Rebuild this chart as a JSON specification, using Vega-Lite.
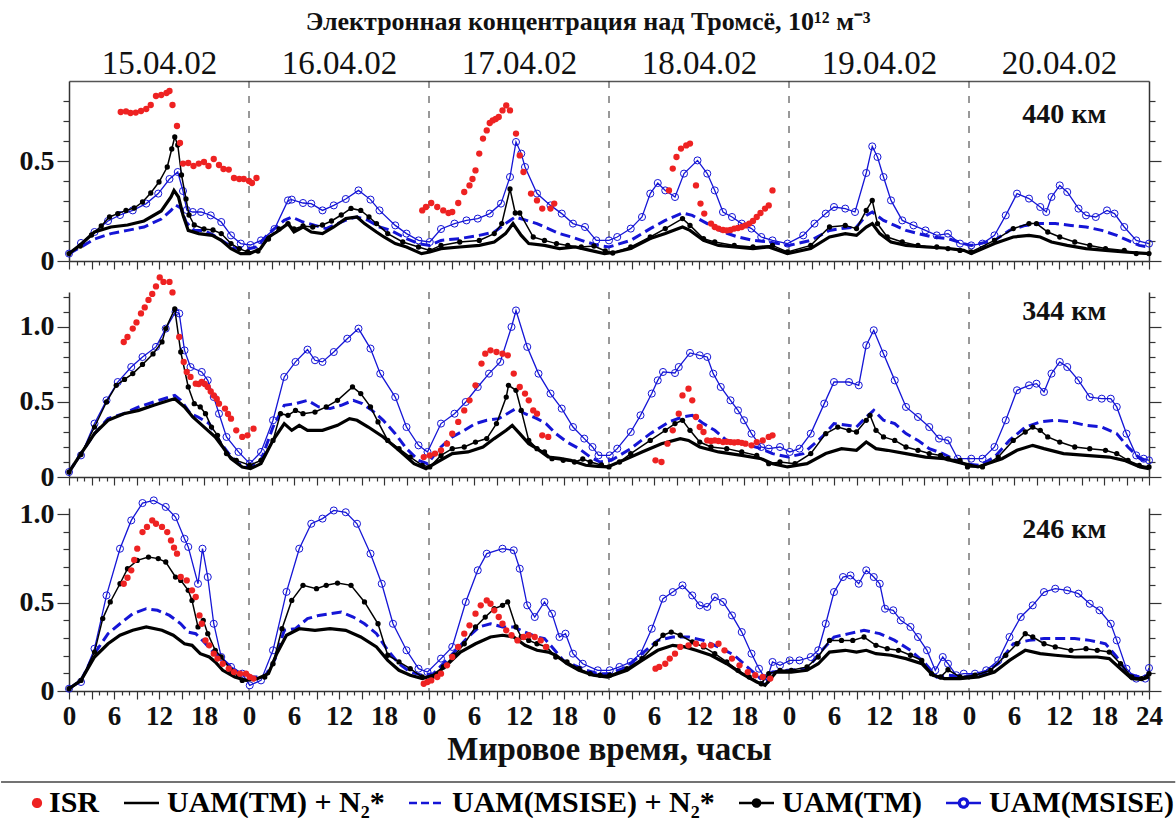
{
"$schema":"https://vega.github.io/schema/vega-lite/v6.json",
"padding":{"left":0,"top":9,"right":0,"bottom":0},
"bounds":"flush",
"spacing":31,
"title":{"text":"Электронная концентрация над Тромсё, 10¹² м⁻³","font":"Liberation Serif","fontSize":26,"fontWeight":"bold","color":"#111","anchor":"middle","offset":12},
"datasets":{
"p1a":[{"t":0,"v":0.037},{"t":1.5,"v":0.08},{"t":3.4,"v":0.145},{"t":5.6,"v":0.17},{"t":7.8,"v":0.18},{"t":10,"v":0.2},{"t":12.3,"v":0.25},{"t":13.6,"v":0.32},{"t":14,"v":0.353},{"t":14.6,"v":0.32},{"t":15.2,"v":0.23},{"t":15.9,"v":0.153},{"t":17.3,"v":0.137},{"t":19.1,"v":0.128},{"t":20.3,"v":0.103},{"t":21.6,"v":0.062},{"t":22.9,"v":0.037},{"t":24.1,"v":0.037},{"t":25.5,"v":0.06},{"t":26.6,"v":0.12},{"t":27.7,"v":0.145},{"t":29.2,"v":0.187},{"t":30,"v":0.145},{"t":31.2,"v":0.17},{"t":32.3,"v":0.145},{"t":33.8,"v":0.137},{"t":35.3,"v":0.17},{"t":36.9,"v":0.212},{"t":38.4,"v":0.22},{"t":39.4,"v":0.187},{"t":41,"v":0.145},{"t":42,"v":0.12},{"t":43.5,"v":0.087},{"t":45,"v":0.07},{"t":47,"v":0.037},{"t":48.1,"v":0.045},{"t":49.6,"v":0.062},{"t":52.1,"v":0.07},{"t":54.7,"v":0.078},{"t":56.7,"v":0.095},{"t":58.2,"v":0.137},{"t":59.2,"v":0.187},{"t":60.3,"v":0.128},{"t":61.3,"v":0.087},{"t":63.4,"v":0.078},{"t":65.4,"v":0.062},{"t":67.5,"v":0.07},{"t":69.5,"v":0.053},{"t":71.4,"v":0.037},{"t":73,"v":0.045},{"t":74.9,"v":0.062},{"t":77.5,"v":0.112},{"t":79.5,"v":0.137},{"t":81.8,"v":0.17},{"t":82.8,"v":0.153},{"t":84.6,"v":0.103},{"t":86.6,"v":0.078},{"t":88.7,"v":0.07},{"t":91.2,"v":0.062},{"t":93.3,"v":0.07},{"t":95.8,"v":0.037},{"t":98.9,"v":0.062},{"t":101.4,"v":0.12},{"t":103.5,"v":0.137},{"t":105,"v":0.128},{"t":106.3,"v":0.17},{"t":107.1,"v":0.187},{"t":108.1,"v":0.137},{"t":109.6,"v":0.095},{"t":111.6,"v":0.078},{"t":114.2,"v":0.07},{"t":116.7,"v":0.065},{"t":119.3,"v":0.053},{"t":120.3,"v":0.037},{"t":123.4,"v":0.087},{"t":125.9,"v":0.12},{"t":128,"v":0.128},{"t":129.5,"v":0.12},{"t":131,"v":0.095},{"t":133.1,"v":0.078},{"t":135.6,"v":0.062},{"t":138.2,"v":0.053},{"t":140.7,"v":0.045},{"t":144,"v":0.037}],
"p1b":[{"t":0,"v":0.037},{"t":1.6,"v":0.07},{"t":3.4,"v":0.11},{"t":5.6,"v":0.137},{"t":7.8,"v":0.153},{"t":10,"v":0.17},{"t":12.3,"v":0.21},{"t":13.6,"v":0.253},{"t":14.2,"v":0.28},{"t":14.9,"v":0.265},{"t":15.6,"v":0.195},{"t":16.7,"v":0.153},{"t":18,"v":0.153},{"t":19.3,"v":0.128},{"t":20.7,"v":0.095},{"t":22,"v":0.065},{"t":23.8,"v":0.06},{"t":25,"v":0.07},{"t":26.6,"v":0.137},{"t":28.7,"v":0.203},{"t":29.7,"v":0.22},{"t":31.2,"v":0.195},{"t":32.8,"v":0.178},{"t":34.3,"v":0.162},{"t":35.8,"v":0.187},{"t":37.4,"v":0.212},{"t":38.4,"v":0.22},{"t":39.9,"v":0.203},{"t":41.4,"v":0.17},{"t":42.9,"v":0.153},{"t":45,"v":0.112},{"t":46.6,"v":0.087},{"t":48.1,"v":0.078},{"t":49.6,"v":0.103},{"t":52.1,"v":0.112},{"t":54.7,"v":0.128},{"t":56.7,"v":0.145},{"t":58.2,"v":0.187},{"t":59.5,"v":0.22},{"t":61,"v":0.203},{"t":62.4,"v":0.187},{"t":63.9,"v":0.162},{"t":65.4,"v":0.137},{"t":67,"v":0.12},{"t":69,"v":0.095},{"t":70.5,"v":0.078},{"t":72,"v":0.07},{"t":74.9,"v":0.103},{"t":77.5,"v":0.162},{"t":79.5,"v":0.203},{"t":81.8,"v":0.24},{"t":83.1,"v":0.228},{"t":85.1,"v":0.187},{"t":87.2,"v":0.145},{"t":89.2,"v":0.12},{"t":91.2,"v":0.103},{"t":93.3,"v":0.095},{"t":96,"v":0.078},{"t":98.9,"v":0.103},{"t":101.4,"v":0.153},{"t":103,"v":0.162},{"t":105,"v":0.17},{"t":106.3,"v":0.228},{"t":107.1,"v":0.245},{"t":108.6,"v":0.203},{"t":110.1,"v":0.178},{"t":111.6,"v":0.153},{"t":113.2,"v":0.137},{"t":115.2,"v":0.12},{"t":117.2,"v":0.112},{"t":119.3,"v":0.087},{"t":120.3,"v":0.078},{"t":123.4,"v":0.103},{"t":125.4,"v":0.153},{"t":127.5,"v":0.178},{"t":129.5,"v":0.187},{"t":131.5,"v":0.187},{"t":133.6,"v":0.178},{"t":135.6,"v":0.17},{"t":137.7,"v":0.153},{"t":139.7,"v":0.128},{"t":141.2,"v":0.103},{"t":142.7,"v":0.078},{"t":144,"v":0.07}],
"p1c":[{"t":0,"v":0.037},{"t":1.5,"v":0.075},{"t":3,"v":0.13},{"t":4.3,"v":0.175},{"t":5.4,"v":0.22},{"t":6.5,"v":0.237},{"t":7.6,"v":0.253},{"t":8.7,"v":0.265},{"t":9.8,"v":0.295},{"t":10.9,"v":0.34},{"t":12,"v":0.395},{"t":13.1,"v":0.47},{"t":13.7,"v":0.56},{"t":14.1,"v":0.62},{"t":14.5,"v":0.58},{"t":15,"v":0.43},{"t":15.6,"v":0.31},{"t":16,"v":0.23},{"t":16.7,"v":0.18},{"t":18,"v":0.16},{"t":19.2,"v":0.155},{"t":20.3,"v":0.137},{"t":21.6,"v":0.087},{"t":22.7,"v":0.062},{"t":23.8,"v":0.045},{"t":25.2,"v":0.05},{"t":26.6,"v":0.11},{"t":28,"v":0.16},{"t":29.2,"v":0.187},{"t":30,"v":0.16},{"t":31.2,"v":0.175},{"t":32.5,"v":0.17},{"t":33.8,"v":0.18},{"t":35,"v":0.2},{"t":36.3,"v":0.23},{"t":37.6,"v":0.263},{"t":38.9,"v":0.253},{"t":40,"v":0.22},{"t":41,"v":0.187},{"t":42.5,"v":0.137},{"t":44.5,"v":0.095},{"t":46.6,"v":0.07},{"t":48.1,"v":0.053},{"t":49.6,"v":0.078},{"t":52.1,"v":0.095},{"t":54.7,"v":0.103},{"t":56.7,"v":0.137},{"t":57.7,"v":0.187},{"t":58.8,"v":0.36},{"t":59.5,"v":0.24},{"t":60.1,"v":0.24},{"t":61.9,"v":0.12},{"t":63.4,"v":0.103},{"t":65,"v":0.087},{"t":66.5,"v":0.078},{"t":68.3,"v":0.07},{"t":70,"v":0.075},{"t":71.5,"v":0.05},{"t":72.5,"v":0.04},{"t":74.9,"v":0.07},{"t":77.5,"v":0.12},{"t":79.5,"v":0.162},{"t":81.8,"v":0.212},{"t":82.8,"v":0.178},{"t":84.6,"v":0.112},{"t":86.1,"v":0.095},{"t":88.7,"v":0.078},{"t":91.2,"v":0.07},{"t":93.8,"v":0.078},{"t":95.8,"v":0.045},{"t":98.9,"v":0.078},{"t":101.4,"v":0.17},{"t":103.5,"v":0.178},{"t":105,"v":0.162},{"t":106.3,"v":0.253},{"t":107.1,"v":0.303},{"t":107.8,"v":0.187},{"t":109.1,"v":0.12},{"t":111.1,"v":0.095},{"t":113.2,"v":0.078},{"t":115.7,"v":0.07},{"t":117.2,"v":0.062},{"t":118.8,"v":0.053},{"t":120.3,"v":0.045},{"t":123.4,"v":0.103},{"t":125.9,"v":0.162},{"t":128,"v":0.187},{"t":129,"v":0.187},{"t":130.5,"v":0.145},{"t":132.1,"v":0.12},{"t":134.1,"v":0.095},{"t":136.1,"v":0.078},{"t":138.2,"v":0.062},{"t":140.7,"v":0.053},{"t":142.3,"v":0.037},{"t":144,"v":0.037}],
"p1d":[{"t":0,"v":0.037},{"t":1.6,"v":0.09},{"t":3.4,"v":0.145},{"t":5.2,"v":0.2},{"t":6.8,"v":0.23},{"t":8.5,"v":0.253},{"t":10.3,"v":0.287},{"t":11.9,"v":0.337},{"t":13.4,"v":0.41},{"t":14.5,"v":0.445},{"t":15.2,"v":0.35},{"t":15.7,"v":0.255},{"t":16.5,"v":0.245},{"t":17.6,"v":0.245},{"t":18.9,"v":0.228},{"t":20.3,"v":0.195},{"t":21.6,"v":0.128},{"t":22.9,"v":0.087},{"t":24.2,"v":0.08},{"t":25.6,"v":0.103},{"t":27.4,"v":0.16},{"t":29.2,"v":0.303},{"t":29.7,"v":0.307},{"t":31.2,"v":0.29},{"t":32.3,"v":0.287},{"t":33.8,"v":0.253},{"t":35.3,"v":0.278},{"t":36.9,"v":0.31},{"t":38.6,"v":0.353},{"t":40.2,"v":0.307},{"t":41.4,"v":0.253},{"t":43.5,"v":0.178},{"t":45,"v":0.137},{"t":46.6,"v":0.103},{"t":48.1,"v":0.095},{"t":49.6,"v":0.16},{"t":51.4,"v":0.187},{"t":53,"v":0.203},{"t":54.5,"v":0.212},{"t":56.1,"v":0.237},{"t":57.6,"v":0.287},{"t":58.8,"v":0.42},{"t":59.6,"v":0.595},{"t":60.3,"v":0.537},{"t":60.8,"v":0.47},{"t":62.4,"v":0.337},{"t":64.2,"v":0.278},{"t":65.7,"v":0.237},{"t":67.2,"v":0.187},{"t":68.8,"v":0.17},{"t":70.3,"v":0.103},{"t":72,"v":0.103},{"t":73.1,"v":0.12},{"t":74.9,"v":0.162},{"t":76.4,"v":0.22},{"t":77.5,"v":0.337},{"t":78.5,"v":0.39},{"t":79.5,"v":0.353},{"t":80.8,"v":0.32},{"t":82,"v":0.437},{"t":83.8,"v":0.503},{"t":85.1,"v":0.437},{"t":86.1,"v":0.353},{"t":87.2,"v":0.245},{"t":88.4,"v":0.22},{"t":89.7,"v":0.187},{"t":91,"v":0.162},{"t":92.3,"v":0.12},{"t":93.8,"v":0.103},{"t":95.8,"v":0.087},{"t":97.9,"v":0.128},{"t":99.4,"v":0.187},{"t":100.9,"v":0.237},{"t":102,"v":0.27},{"t":103.5,"v":0.262},{"t":104.8,"v":0.245},{"t":106.3,"v":0.44},{"t":107.1,"v":0.573},{"t":107.8,"v":0.52},{"t":108.6,"v":0.42},{"t":109.6,"v":0.303},{"t":111.1,"v":0.203},{"t":112.6,"v":0.178},{"t":114.2,"v":0.153},{"t":115.7,"v":0.128},{"t":117.2,"v":0.137},{"t":118.8,"v":0.087},{"t":120.3,"v":0.078},{"t":121.8,"v":0.087},{"t":123.4,"v":0.128},{"t":124.9,"v":0.228},{"t":126.4,"v":0.337},{"t":128,"v":0.312},{"t":129.5,"v":0.27},{"t":130.3,"v":0.245},{"t":131,"v":0.32},{"t":132.1,"v":0.378},{"t":133.1,"v":0.345},{"t":134.6,"v":0.262},{"t":135.6,"v":0.228},{"t":136.9,"v":0.22},{"t":138.4,"v":0.253},{"t":139.4,"v":0.237},{"t":140.7,"v":0.17},{"t":142.3,"v":0.103},{"t":144,"v":0.087}],
"p1i":[{"t":6.9,"v":0.745},{"t":7.6,"v":0.748},{"t":8.2,"v":0.74},{"t":8.9,"v":0.742},{"t":9.6,"v":0.75},{"t":10.3,"v":0.76},{"t":10.9,"v":0.78},{"t":11.6,"v":0.825},{"t":12.3,"v":0.83},{"t":13,"v":0.84},{"t":13.4,"v":0.85},{"t":13.8,"v":0.78},{"t":14.4,"v":0.675},{"t":14.8,"v":0.59},{"t":15.2,"v":0.487},{"t":15.9,"v":0.49},{"t":16.6,"v":0.475},{"t":17.3,"v":0.487},{"t":18,"v":0.495},{"t":18.6,"v":0.475},{"t":19.3,"v":0.51},{"t":20,"v":0.48},{"t":20.6,"v":0.46},{"t":21.3,"v":0.457},{"t":22,"v":0.415},{"t":22.7,"v":0.41},{"t":23.3,"v":0.41},{"t":24,"v":0.4},{"t":24.4,"v":0.39},{"t":25,"v":0.415},{"t":47.1,"v":0.253},{"t":47.6,"v":0.27},{"t":48.3,"v":0.29},{"t":49.1,"v":0.27},{"t":49.9,"v":0.253},{"t":50.6,"v":0.24},{"t":51.1,"v":0.245},{"t":51.9,"v":0.29},{"t":52.7,"v":0.345},{"t":53.4,"v":0.378},{"t":53.8,"v":0.41},{"t":54.2,"v":0.453},{"t":54.7,"v":0.537},{"t":55.2,"v":0.612},{"t":55.7,"v":0.653},{"t":56.1,"v":0.69},{"t":56.5,"v":0.703},{"t":56.9,"v":0.71},{"t":57.3,"v":0.72},{"t":57.8,"v":0.753},{"t":58.3,"v":0.778},{"t":58.8,"v":0.753},{"t":59.6,"v":0.637},{"t":60.1,"v":0.528},{"t":60.6,"v":0.445},{"t":61.6,"v":0.337},{"t":62.4,"v":0.303},{"t":63.1,"v":0.262},{"t":64.2,"v":0.262},{"t":64.7,"v":0.287},{"t":80,"v":0.353},{"t":80.5,"v":0.462},{"t":81,"v":0.52},{"t":81.6,"v":0.562},{"t":82.3,"v":0.578},{"t":82.8,"v":0.587},{"t":83.6,"v":0.378},{"t":84.2,"v":0.287},{"t":84.7,"v":0.237},{"t":85.6,"v":0.187},{"t":86.1,"v":0.17},{"t":86.6,"v":0.162},{"t":87.2,"v":0.155},{"t":87.7,"v":0.153},{"t":88.2,"v":0.155},{"t":88.7,"v":0.162},{"t":89.2,"v":0.165},{"t":89.7,"v":0.17},{"t":90.2,"v":0.178},{"t":90.7,"v":0.187},{"t":91.2,"v":0.2},{"t":91.7,"v":0.22},{"t":92.2,"v":0.24},{"t":92.8,"v":0.262},{"t":93.3,"v":0.278},{"t":93.8,"v":0.353}],
"p2a":[{"t":0,"v":0.033},{"t":1.6,"v":0.156},{"t":3.4,"v":0.289},{"t":5.2,"v":0.378},{"t":7.3,"v":0.422},{"t":9.3,"v":0.444},{"t":11.3,"v":0.478},{"t":13.4,"v":0.511},{"t":14.1,"v":0.522},{"t":15.4,"v":0.467},{"t":16.5,"v":0.4},{"t":17.5,"v":0.356},{"t":18.5,"v":0.311},{"t":19.5,"v":0.267},{"t":20.5,"v":0.2},{"t":21.6,"v":0.122},{"t":23.1,"v":0.067},{"t":24.2,"v":0.056},{"t":25.6,"v":0.089},{"t":27.2,"v":0.244},{"t":28.7,"v":0.356},{"t":29.7,"v":0.311},{"t":30.7,"v":0.344},{"t":31.8,"v":0.311},{"t":33.8,"v":0.311},{"t":35.8,"v":0.344},{"t":37.4,"v":0.389},{"t":38.4,"v":0.378},{"t":39.9,"v":0.333},{"t":41.9,"v":0.267},{"t":44,"v":0.178},{"t":46,"v":0.089},{"t":47.6,"v":0.056},{"t":49.1,"v":0.1},{"t":51.1,"v":0.156},{"t":53.2,"v":0.167},{"t":55.2,"v":0.2},{"t":56.7,"v":0.256},{"t":58.3,"v":0.311},{"t":59.1,"v":0.344},{"t":60.1,"v":0.289},{"t":61.3,"v":0.222},{"t":62.4,"v":0.189},{"t":63.9,"v":0.133},{"t":65.4,"v":0.125},{"t":66.9,"v":0.111},{"t":68.9,"v":0.078},{"t":70.5,"v":0.071},{"t":71.8,"v":0.067},{"t":73.9,"v":0.111},{"t":76.4,"v":0.167},{"t":79,"v":0.222},{"t":81.5,"v":0.256},{"t":82.6,"v":0.244},{"t":84.1,"v":0.2},{"t":86.6,"v":0.167},{"t":89.7,"v":0.144},{"t":92.3,"v":0.122},{"t":93.8,"v":0.089},{"t":95.8,"v":0.067},{"t":98.4,"v":0.089},{"t":100.9,"v":0.156},{"t":103,"v":0.189},{"t":105,"v":0.178},{"t":106.3,"v":0.233},{"t":107.6,"v":0.189},{"t":109.1,"v":0.178},{"t":111.6,"v":0.156},{"t":114.2,"v":0.133},{"t":116.7,"v":0.122},{"t":119.3,"v":0.089},{"t":121.2,"v":0.067},{"t":124.4,"v":0.122},{"t":126.4,"v":0.178},{"t":128.5,"v":0.211},{"t":130,"v":0.189},{"t":132.6,"v":0.156},{"t":135.6,"v":0.144},{"t":138.7,"v":0.133},{"t":140.7,"v":0.111},{"t":142.8,"v":0.067},{"t":144,"v":0.056}],
"p2b":[{"t":0,"v":0.033},{"t":1.6,"v":0.156},{"t":3.4,"v":0.289},{"t":5.2,"v":0.389},{"t":7.3,"v":0.422},{"t":9.3,"v":0.467},{"t":11.3,"v":0.5},{"t":13.4,"v":0.533},{"t":14.1,"v":0.544},{"t":14.9,"v":0.511},{"t":16.2,"v":0.422},{"t":17.2,"v":0.4},{"t":18.7,"v":0.356},{"t":20,"v":0.244},{"t":21.3,"v":0.156},{"t":22.6,"v":0.089},{"t":24.1,"v":0.067},{"t":25.6,"v":0.111},{"t":27.2,"v":0.333},{"t":28.7,"v":0.478},{"t":30.2,"v":0.489},{"t":31.8,"v":0.511},{"t":33.3,"v":0.467},{"t":34.8,"v":0.456},{"t":36.3,"v":0.478},{"t":37.9,"v":0.511},{"t":39.1,"v":0.489},{"t":40.4,"v":0.444},{"t":41.9,"v":0.378},{"t":43.5,"v":0.289},{"t":45,"v":0.189},{"t":46.6,"v":0.111},{"t":47.8,"v":0.089},{"t":49.6,"v":0.2},{"t":51.1,"v":0.267},{"t":52.7,"v":0.311},{"t":54.2,"v":0.356},{"t":55.7,"v":0.378},{"t":57.3,"v":0.389},{"t":58.8,"v":0.433},{"t":59.6,"v":0.456},{"t":60.8,"v":0.422},{"t":62.4,"v":0.389},{"t":63.6,"v":0.356},{"t":64.9,"v":0.289},{"t":66.4,"v":0.233},{"t":68,"v":0.189},{"t":69.5,"v":0.133},{"t":70.8,"v":0.1},{"t":72.3,"v":0.111},{"t":74.9,"v":0.189},{"t":77.5,"v":0.289},{"t":80,"v":0.367},{"t":81.8,"v":0.4},{"t":83.1,"v":0.411},{"t":84.6,"v":0.356},{"t":86.1,"v":0.311},{"t":87.7,"v":0.244},{"t":89.2,"v":0.233},{"t":90.7,"v":0.211},{"t":92.3,"v":0.189},{"t":93.8,"v":0.156},{"t":95.9,"v":0.133},{"t":97.9,"v":0.156},{"t":100.4,"v":0.267},{"t":102,"v":0.356},{"t":104,"v":0.344},{"t":105,"v":0.333},{"t":106.3,"v":0.4},{"t":107.3,"v":0.444},{"t":108.6,"v":0.378},{"t":110.1,"v":0.356},{"t":111.6,"v":0.289},{"t":113.2,"v":0.244},{"t":114.7,"v":0.189},{"t":116.5,"v":0.156},{"t":118.3,"v":0.111},{"t":119.3,"v":0.089},{"t":121.5,"v":0.078},{"t":123.4,"v":0.133},{"t":125.4,"v":0.244},{"t":127.5,"v":0.333},{"t":129.5,"v":0.367},{"t":131.5,"v":0.378},{"t":133.6,"v":0.367},{"t":135.6,"v":0.344},{"t":137.7,"v":0.333},{"t":139.7,"v":0.289},{"t":141.2,"v":0.2},{"t":142.8,"v":0.122},{"t":144,"v":0.1}],
"p2c":[{"t":0,"v":0.033},{"t":1.6,"v":0.15},{"t":3.4,"v":0.333},{"t":5,"v":0.5},{"t":6.3,"v":0.611},{"t":7.4,"v":0.65},{"t":8.5,"v":0.689},{"t":9.8,"v":0.75},{"t":11.2,"v":0.82},{"t":12.4,"v":0.9},{"t":12.9,"v":0.989},{"t":14.1,"v":1.12},{"t":14.9,"v":0.833},{"t":15.9,"v":0.6},{"t":16.7,"v":0.489},{"t":17.5,"v":0.467},{"t":18.2,"v":0.422},{"t":19,"v":0.333},{"t":19.8,"v":0.278},{"t":21,"v":0.156},{"t":22.3,"v":0.111},{"t":24.1,"v":0.078},{"t":25.6,"v":0.111},{"t":27.2,"v":0.244},{"t":28.2,"v":0.422},{"t":29.2,"v":0.411},{"t":30.2,"v":0.444},{"t":31.2,"v":0.422},{"t":32.8,"v":0.433},{"t":34.3,"v":0.467},{"t":35.8,"v":0.511},{"t":37.8,"v":0.6},{"t":38.9,"v":0.556},{"t":40.2,"v":0.467},{"t":41.2,"v":0.367},{"t":42.5,"v":0.244},{"t":44,"v":0.189},{"t":45.5,"v":0.133},{"t":47.1,"v":0.078},{"t":48.1,"v":0.067},{"t":49.6,"v":0.144},{"t":51.1,"v":0.189},{"t":52.7,"v":0.2},{"t":54.2,"v":0.233},{"t":55.7,"v":0.256},{"t":57,"v":0.356},{"t":58.3,"v":0.533},{"t":58.6,"v":0.611},{"t":59.6,"v":0.578},{"t":60.3,"v":0.444},{"t":61.3,"v":0.244},{"t":62.4,"v":0.189},{"t":63.4,"v":0.167},{"t":64.4,"v":0.122},{"t":65.9,"v":0.111},{"t":67.4,"v":0.1},{"t":68.5,"v":0.12},{"t":69.5,"v":0.1},{"t":71,"v":0.08},{"t":72,"v":0.067},{"t":73.4,"v":0.1},{"t":74.9,"v":0.156},{"t":77.5,"v":0.244},{"t":79.5,"v":0.311},{"t":80.8,"v":0.356},{"t":81.8,"v":0.378},{"t":82.8,"v":0.311},{"t":84.1,"v":0.233},{"t":85.6,"v":0.2},{"t":87.7,"v":0.189},{"t":89.7,"v":0.167},{"t":91.7,"v":0.144},{"t":93.3,"v":0.089},{"t":94.8,"v":0.1},{"t":96.8,"v":0.089},{"t":98.9,"v":0.156},{"t":100.9,"v":0.289},{"t":102.5,"v":0.333},{"t":104,"v":0.311},{"t":105,"v":0.3},{"t":106.3,"v":0.378},{"t":106.8,"v":0.411},{"t":107.6,"v":0.311},{"t":108.6,"v":0.267},{"t":110.1,"v":0.244},{"t":111.6,"v":0.2},{"t":113.2,"v":0.178},{"t":114.7,"v":0.156},{"t":116.2,"v":0.144},{"t":117.2,"v":0.122},{"t":118.8,"v":0.111},{"t":119.8,"v":0.067},{"t":121.8,"v":0.067},{"t":123.9,"v":0.133},{"t":125.9,"v":0.244},{"t":127.5,"v":0.3},{"t":128.5,"v":0.333},{"t":129.5,"v":0.311},{"t":130.5,"v":0.267},{"t":132.1,"v":0.233},{"t":134.1,"v":0.2},{"t":136.1,"v":0.189},{"t":138.2,"v":0.178},{"t":139.7,"v":0.156},{"t":141.2,"v":0.111},{"t":142.7,"v":0.078},{"t":144,"v":0.067}],
"p2d":[{"t":0,"v":0.033},{"t":1.6,"v":0.144},{"t":3.4,"v":0.356},{"t":5,"v":0.511},{"t":6.5,"v":0.633},{"t":8.3,"v":0.733},{"t":9.8,"v":0.8},{"t":11.6,"v":0.867},{"t":12.9,"v":0.989},{"t":14.2,"v":1.1},{"t":14.7,"v":1.09},{"t":15.4,"v":0.844},{"t":16.2,"v":0.733},{"t":17.7,"v":0.7},{"t":18.5,"v":0.644},{"t":19.3,"v":0.533},{"t":20,"v":0.422},{"t":21,"v":0.267},{"t":22.6,"v":0.167},{"t":24.1,"v":0.089},{"t":25.6,"v":0.167},{"t":27.2,"v":0.378},{"t":28.7,"v":0.667},{"t":30.2,"v":0.767},{"t":31.8,"v":0.849},{"t":32.8,"v":0.778},{"t":33.8,"v":0.767},{"t":35.3,"v":0.833},{"t":37.1,"v":0.922},{"t":38.6,"v":0.989},{"t":40.2,"v":0.856},{"t":41.5,"v":0.689},{"t":43.5,"v":0.533},{"t":45,"v":0.333},{"t":46.6,"v":0.211},{"t":47.8,"v":0.167},{"t":49.6,"v":0.356},{"t":51.4,"v":0.422},{"t":52.9,"v":0.5},{"t":54.5,"v":0.6},{"t":56,"v":0.689},{"t":57.5,"v":0.767},{"t":59,"v":1.0},{"t":59.6,"v":1.11},{"t":61.1,"v":0.867},{"t":62.6,"v":0.689},{"t":64.2,"v":0.556},{"t":65.7,"v":0.456},{"t":67.2,"v":0.333},{"t":68.7,"v":0.256},{"t":69.8,"v":0.2},{"t":70.6,"v":0.144},{"t":72.1,"v":0.144},{"t":73.1,"v":0.189},{"t":74.9,"v":0.3},{"t":76.2,"v":0.411},{"t":77.7,"v":0.556},{"t":78.5,"v":0.644},{"t":79.2,"v":0.7},{"t":80.8,"v":0.693},{"t":81.3,"v":0.733},{"t":82.8,"v":0.827},{"t":84.1,"v":0.811},{"t":85.1,"v":0.8},{"t":85.9,"v":0.689},{"t":86.9,"v":0.6},{"t":88.2,"v":0.511},{"t":89.2,"v":0.444},{"t":90,"v":0.378},{"t":91,"v":0.289},{"t":92.3,"v":0.2},{"t":93.3,"v":0.189},{"t":94.8,"v":0.2},{"t":96.1,"v":0.167},{"t":97.4,"v":0.189},{"t":98.9,"v":0.289},{"t":100.7,"v":0.489},{"t":102,"v":0.633},{"t":104,"v":0.633},{"t":105.3,"v":0.611},{"t":106.3,"v":0.878},{"t":107.3,"v":0.978},{"t":108.6,"v":0.822},{"t":110.1,"v":0.644},{"t":111.6,"v":0.467},{"t":113.2,"v":0.4},{"t":114.7,"v":0.333},{"t":116,"v":0.256},{"t":117.2,"v":0.244},{"t":118.5,"v":0.122},{"t":120.3,"v":0.122},{"t":121.8,"v":0.122},{"t":123.4,"v":0.2},{"t":124.9,"v":0.378},{"t":126.4,"v":0.578},{"t":128,"v":0.611},{"t":129,"v":0.622},{"t":130,"v":0.567},{"t":131,"v":0.689},{"t":132.1,"v":0.767},{"t":133.1,"v":0.733},{"t":134.6,"v":0.644},{"t":136.1,"v":0.533},{"t":137.7,"v":0.522},{"t":138.9,"v":0.522},{"t":139.7,"v":0.467},{"t":141,"v":0.289},{"t":142.3,"v":0.144},{"t":143.3,"v":0.122},{"t":144,"v":0.111}],
"p2i":[{"t":7.3,"v":0.9},{"t":7.8,"v":0.933},{"t":8.5,"v":0.989},{"t":9,"v":1.03},{"t":9.6,"v":1.09},{"t":10.1,"v":1.13},{"t":10.6,"v":1.18},{"t":11.1,"v":1.22},{"t":11.6,"v":1.27},{"t":12.1,"v":1.33},{"t":12.6,"v":1.3},{"t":13.4,"v":1.3},{"t":13.8,"v":1.23},{"t":14.7,"v":0.933},{"t":15.3,"v":0.767},{"t":15.7,"v":0.7},{"t":16.2,"v":0.667},{"t":16.9,"v":0.622},{"t":17.3,"v":0.62},{"t":17.7,"v":0.633},{"t":18.1,"v":0.62},{"t":18.5,"v":0.6},{"t":18.9,"v":0.57},{"t":19.3,"v":0.544},{"t":19.7,"v":0.52},{"t":20,"v":0.489},{"t":20.8,"v":0.456},{"t":21.2,"v":0.42},{"t":21.6,"v":0.389},{"t":22.3,"v":0.311},{"t":23.1,"v":0.267},{"t":23.8,"v":0.278},{"t":24.6,"v":0.322},{"t":47.3,"v":0.133},{"t":48.1,"v":0.144},{"t":48.8,"v":0.156},{"t":49.6,"v":0.178},{"t":50.4,"v":0.222},{"t":51.1,"v":0.289},{"t":51.9,"v":0.367},{"t":52.7,"v":0.444},{"t":53.4,"v":0.511},{"t":54.2,"v":0.611},{"t":55,"v":0.756},{"t":55.5,"v":0.822},{"t":56.2,"v":0.844},{"t":57,"v":0.833},{"t":57.8,"v":0.822},{"t":58.5,"v":0.811},{"t":59.3,"v":0.689},{"t":60.1,"v":0.6},{"t":60.8,"v":0.556},{"t":61.3,"v":0.511},{"t":61.9,"v":0.444},{"t":62.4,"v":0.422},{"t":63.1,"v":0.278},{"t":63.9,"v":0.267},{"t":78.2,"v":0.111},{"t":79,"v":0.1},{"t":79.8,"v":0.222},{"t":80.5,"v":0.311},{"t":81.3,"v":0.422},{"t":81.8,"v":0.544},{"t":82.6,"v":0.589},{"t":83.1,"v":0.511},{"t":83.6,"v":0.4},{"t":84.1,"v":0.333},{"t":84.6,"v":0.3},{"t":85.1,"v":0.244},{"t":85.6,"v":0.24},{"t":86.1,"v":0.244},{"t":86.6,"v":0.24},{"t":87.2,"v":0.233},{"t":87.7,"v":0.235},{"t":88.2,"v":0.233},{"t":88.7,"v":0.23},{"t":89.2,"v":0.233},{"t":89.7,"v":0.228},{"t":90.2,"v":0.222},{"t":91,"v":0.211},{"t":91.7,"v":0.233},{"t":92.5,"v":0.244},{"t":93.3,"v":0.267},{"t":93.8,"v":0.278}],
"p3a":[{"t":0,"v":0.013},{"t":1.6,"v":0.06},{"t":3.4,"v":0.192},{"t":5.2,"v":0.267},{"t":6.8,"v":0.315},{"t":8.5,"v":0.343},{"t":10.3,"v":0.362},{"t":12.4,"v":0.343},{"t":13.9,"v":0.315},{"t":15.4,"v":0.267},{"t":16.4,"v":0.258},{"t":17.5,"v":0.211},{"t":18.7,"v":0.192},{"t":19.5,"v":0.164},{"t":20.5,"v":0.117},{"t":22.1,"v":0.079},{"t":23.6,"v":0.06},{"t":25.1,"v":0.07},{"t":26.6,"v":0.098},{"t":27.7,"v":0.211},{"t":29,"v":0.315},{"t":30.7,"v":0.352},{"t":32.8,"v":0.343},{"t":34.8,"v":0.352},{"t":36.9,"v":0.343},{"t":38.9,"v":0.305},{"t":41,"v":0.249},{"t":42.5,"v":0.173},{"t":44,"v":0.117},{"t":45.5,"v":0.089},{"t":47.1,"v":0.07},{"t":48.6,"v":0.089},{"t":50.1,"v":0.136},{"t":52.2,"v":0.22},{"t":54.2,"v":0.267},{"t":56.2,"v":0.305},{"t":57.8,"v":0.315},{"t":59.3,"v":0.305},{"t":60.8,"v":0.258},{"t":62.4,"v":0.23},{"t":63.9,"v":0.22},{"t":64.9,"v":0.202},{"t":66.4,"v":0.154},{"t":68,"v":0.117},{"t":69.9,"v":0.089},{"t":71.8,"v":0.079},{"t":74.4,"v":0.117},{"t":76.4,"v":0.173},{"t":78.5,"v":0.23},{"t":80.5,"v":0.258},{"t":82.1,"v":0.249},{"t":83.6,"v":0.23},{"t":85.6,"v":0.202},{"t":87.7,"v":0.154},{"t":89.7,"v":0.098},{"t":91.7,"v":0.051},{"t":92.8,"v":0.032},{"t":94.3,"v":0.107},{"t":96.3,"v":0.107},{"t":98.4,"v":0.117},{"t":99.9,"v":0.154},{"t":101.4,"v":0.22},{"t":103.5,"v":0.23},{"t":105,"v":0.22},{"t":106.3,"v":0.23},{"t":107.6,"v":0.211},{"t":109.6,"v":0.202},{"t":111.6,"v":0.183},{"t":113.7,"v":0.154},{"t":115.2,"v":0.089},{"t":116.7,"v":0.07},{"t":118.8,"v":0.07},{"t":121.3,"v":0.079},{"t":123.4,"v":0.107},{"t":125.4,"v":0.173},{"t":127.5,"v":0.23},{"t":129.5,"v":0.211},{"t":131.5,"v":0.202},{"t":134.1,"v":0.192},{"t":137.1,"v":0.192},{"t":138.7,"v":0.183},{"t":140.2,"v":0.126},{"t":141.7,"v":0.07},{"t":143,"v":0.065},{"t":144,"v":0.079}],
"p3b":[{"t":0,"v":0.013},{"t":1.6,"v":0.06},{"t":3.4,"v":0.211},{"t":5.2,"v":0.324},{"t":6.8,"v":0.38},{"t":8.5,"v":0.437},{"t":10.3,"v":0.465},{"t":11.8,"v":0.456},{"t":13.4,"v":0.427},{"t":14.9,"v":0.38},{"t":15.9,"v":0.333},{"t":16.9,"v":0.324},{"t":18,"v":0.277},{"t":19,"v":0.23},{"t":20.3,"v":0.183},{"t":21.6,"v":0.136},{"t":23.1,"v":0.089},{"t":24.6,"v":0.079},{"t":26.1,"v":0.079},{"t":27.5,"v":0.183},{"t":28.7,"v":0.343},{"t":30.2,"v":0.352},{"t":31.8,"v":0.409},{"t":33.3,"v":0.427},{"t":34.8,"v":0.437},{"t":36.3,"v":0.446},{"t":37.9,"v":0.418},{"t":39.4,"v":0.38},{"t":41,"v":0.324},{"t":42.5,"v":0.23},{"t":44,"v":0.154},{"t":45.5,"v":0.107},{"t":47.1,"v":0.089},{"t":48.6,"v":0.098},{"t":50.1,"v":0.164},{"t":51.6,"v":0.23},{"t":53.2,"v":0.305},{"t":54.7,"v":0.362},{"t":56.2,"v":0.38},{"t":57.8,"v":0.362},{"t":59.3,"v":0.362},{"t":60.8,"v":0.333},{"t":62.4,"v":0.305},{"t":63.4,"v":0.296},{"t":64.4,"v":0.249},{"t":65.9,"v":0.173},{"t":67.4,"v":0.145},{"t":69,"v":0.117},{"t":70.5,"v":0.098},{"t":72.1,"v":0.098},{"t":74.4,"v":0.136},{"t":76.4,"v":0.211},{"t":78.5,"v":0.286},{"t":80.5,"v":0.305},{"t":82.6,"v":0.305},{"t":84.6,"v":0.286},{"t":86.6,"v":0.249},{"t":88.7,"v":0.202},{"t":90.7,"v":0.126},{"t":92.2,"v":0.07},{"t":93.8,"v":0.107},{"t":95.8,"v":0.117},{"t":98.4,"v":0.126},{"t":100.4,"v":0.23},{"t":102,"v":0.305},{"t":104,"v":0.324},{"t":106,"v":0.343},{"t":108.1,"v":0.324},{"t":110.1,"v":0.286},{"t":112.2,"v":0.23},{"t":114.2,"v":0.154},{"t":115.7,"v":0.079},{"t":117.2,"v":0.089},{"t":119.3,"v":0.079},{"t":121.8,"v":0.098},{"t":123.9,"v":0.154},{"t":125.9,"v":0.267},{"t":128,"v":0.286},{"t":130,"v":0.296},{"t":132.1,"v":0.296},{"t":134.1,"v":0.296},{"t":136.1,"v":0.286},{"t":138.2,"v":0.267},{"t":139.7,"v":0.192},{"t":141.2,"v":0.098},{"t":142.7,"v":0.079},{"t":144,"v":0.089}],
"p3c":[{"t":0,"v":0.013},{"t":1.6,"v":0.06},{"t":3.4,"v":0.22},{"t":4.5,"v":0.409},{"t":5.5,"v":0.503},{"t":6.8,"v":0.606},{"t":7.8,"v":0.691},{"t":9.1,"v":0.738},{"t":10.6,"v":0.757},{"t":11.9,"v":0.748},{"t":12.9,"v":0.729},{"t":14.2,"v":0.644},{"t":14.9,"v":0.625},{"t":15.9,"v":0.569},{"t":16.4,"v":0.512},{"t":17.2,"v":0.362},{"t":17.9,"v":0.399},{"t":18.5,"v":0.324},{"t":19.5,"v":0.23},{"t":20.3,"v":0.192},{"t":21.6,"v":0.117},{"t":23.1,"v":0.06},{"t":24.6,"v":0.07},{"t":26.1,"v":0.079},{"t":27.2,"v":0.154},{"t":28.4,"v":0.352},{"t":29.7,"v":0.512},{"t":31.2,"v":0.597},{"t":33,"v":0.578},{"t":34.3,"v":0.597},{"t":35.8,"v":0.61},{"t":37.6,"v":0.597},{"t":39.4,"v":0.503},{"t":41.2,"v":0.38},{"t":42.5,"v":0.202},{"t":44,"v":0.164},{"t":45.5,"v":0.126},{"t":47.1,"v":0.079},{"t":48.4,"v":0.079},{"t":49.9,"v":0.136},{"t":51.4,"v":0.202},{"t":52.7,"v":0.267},{"t":54.2,"v":0.362},{"t":55.5,"v":0.418},{"t":56.7,"v":0.465},{"t":57.8,"v":0.484},{"t":58.5,"v":0.503},{"t":59.6,"v":0.362},{"t":60.3,"v":0.305},{"t":61.3,"v":0.286},{"t":62.4,"v":0.267},{"t":63.7,"v":0.249},{"t":64.9,"v":0.192},{"t":66.4,"v":0.164},{"t":68,"v":0.126},{"t":69.5,"v":0.098},{"t":70.8,"v":0.089},{"t":72.1,"v":0.089},{"t":74.4,"v":0.126},{"t":76.4,"v":0.183},{"t":78.2,"v":0.267},{"t":79.2,"v":0.315},{"t":80.3,"v":0.333},{"t":81.5,"v":0.315},{"t":83.1,"v":0.277},{"t":84.6,"v":0.249},{"t":86.1,"v":0.211},{"t":87.7,"v":0.164},{"t":89.2,"v":0.117},{"t":90.7,"v":0.079},{"t":92.3,"v":0.041},{"t":93.3,"v":0.098},{"t":94.8,"v":0.117},{"t":96.3,"v":0.117},{"t":98.4,"v":0.136},{"t":99.9,"v":0.192},{"t":101.4,"v":0.286},{"t":103,"v":0.286},{"t":104.5,"v":0.286},{"t":106,"v":0.305},{"t":107.6,"v":0.258},{"t":109.1,"v":0.239},{"t":110.6,"v":0.23},{"t":112.2,"v":0.202},{"t":113.7,"v":0.173},{"t":115,"v":0.098},{"t":116.2,"v":0.079},{"t":117.2,"v":0.12},{"t":118.8,"v":0.079},{"t":120.8,"v":0.089},{"t":122.9,"v":0.117},{"t":124.9,"v":0.202},{"t":126.4,"v":0.267},{"t":127.5,"v":0.324},{"t":128.5,"v":0.305},{"t":130,"v":0.267},{"t":131.5,"v":0.249},{"t":133.6,"v":0.23},{"t":135.6,"v":0.239},{"t":137.1,"v":0.23},{"t":138.7,"v":0.22},{"t":140.2,"v":0.154},{"t":141.7,"v":0.079},{"t":143,"v":0.07},{"t":144,"v":0.098}],
"p3d":[{"t":0,"v":0.013},{"t":1.6,"v":0.051},{"t":3.4,"v":0.239},{"t":5,"v":0.54},{"t":6.8,"v":0.804},{"t":8.3,"v":0.964},{"t":9.8,"v":1.062},{"t":11.3,"v":1.077},{"t":12.9,"v":1.04},{"t":14.2,"v":0.983},{"t":15.4,"v":0.86},{"t":15.9,"v":0.814},{"t":17.2,"v":0.606},{"t":17.8,"v":0.804},{"t":18.5,"v":0.644},{"t":19.3,"v":0.38},{"t":20.3,"v":0.192},{"t":21.6,"v":0.136},{"t":23.1,"v":0.098},{"t":24.1,"v":0.032},{"t":25.6,"v":0.06},{"t":27.2,"v":0.23},{"t":29,"v":0.56},{"t":30.7,"v":0.804},{"t":32.3,"v":0.945},{"t":33.8,"v":0.974},{"t":35.3,"v":1.02},{"t":36.9,"v":1.01},{"t":38.4,"v":0.945},{"t":40.2,"v":0.776},{"t":41.7,"v":0.606},{"t":43.2,"v":0.38},{"t":45,"v":0.23},{"t":46.6,"v":0.126},{"t":47.8,"v":0.107},{"t":49.6,"v":0.183},{"t":51.1,"v":0.249},{"t":52.9,"v":0.503},{"t":54.5,"v":0.682},{"t":55.7,"v":0.776},{"t":57.8,"v":0.804},{"t":59.3,"v":0.795},{"t":60.1,"v":0.691},{"t":61.1,"v":0.484},{"t":62.1,"v":0.418},{"t":63.4,"v":0.503},{"t":64.4,"v":0.437},{"t":65.4,"v":0.305},{"t":66.2,"v":0.324},{"t":67.2,"v":0.211},{"t":68.5,"v":0.154},{"t":70.5,"v":0.117},{"t":72.1,"v":0.117},{"t":73.4,"v":0.136},{"t":74.9,"v":0.164},{"t":76.2,"v":0.211},{"t":77.7,"v":0.352},{"t":79.2,"v":0.522},{"t":80.5,"v":0.559},{"t":81.8,"v":0.597},{"t":83.1,"v":0.54},{"t":84.1,"v":0.484},{"t":85.1,"v":0.475},{"t":86.1,"v":0.531},{"t":87.2,"v":0.503},{"t":88.4,"v":0.427},{"t":89.7,"v":0.333},{"t":91,"v":0.211},{"t":92,"v":0.126},{"t":93,"v":0.06},{"t":93.8,"v":0.164},{"t":94.8,"v":0.145},{"t":96.1,"v":0.173},{"t":97.4,"v":0.173},{"t":98.9,"v":0.192},{"t":99.9,"v":0.23},{"t":100.9,"v":0.38},{"t":102,"v":0.559},{"t":103.2,"v":0.644},{"t":104.2,"v":0.653},{"t":105.3,"v":0.606},{"t":106.3,"v":0.682},{"t":107.3,"v":0.644},{"t":108.1,"v":0.606},{"t":108.8,"v":0.465},{"t":109.9,"v":0.456},{"t":110.9,"v":0.399},{"t":112.2,"v":0.362},{"t":113.2,"v":0.305},{"t":114.4,"v":0.23},{"t":115.5,"v":0.117},{"t":116.5,"v":0.192},{"t":117.2,"v":0.154},{"t":118.3,"v":0.089},{"t":119.3,"v":0.098},{"t":120.8,"v":0.098},{"t":122.3,"v":0.117},{"t":123.9,"v":0.173},{"t":125.4,"v":0.305},{"t":126.9,"v":0.418},{"t":128.5,"v":0.484},{"t":130,"v":0.559},{"t":131.5,"v":0.578},{"t":133.1,"v":0.569},{"t":134.6,"v":0.55},{"t":136.1,"v":0.493},{"t":137.4,"v":0.456},{"t":138.9,"v":0.38},{"t":139.7,"v":0.286},{"t":141,"v":0.126},{"t":142.3,"v":0.07},{"t":143.5,"v":0.07},{"t":144,"v":0.13}],
"p3i":[{"t":7.3,"v":0.606},{"t":7.8,"v":0.64},{"t":8.3,"v":0.682},{"t":8.7,"v":0.74},{"t":9.1,"v":0.804},{"t":9.8,"v":0.898},{"t":10.4,"v":0.927},{"t":11.1,"v":0.964},{"t":11.6,"v":0.945},{"t":12.4,"v":0.927},{"t":13.1,"v":0.898},{"t":13.6,"v":0.851},{"t":14,"v":0.81},{"t":14.4,"v":0.776},{"t":14.9,"v":0.644},{"t":15.7,"v":0.625},{"t":16.4,"v":0.569},{"t":16.9,"v":0.531},{"t":17.4,"v":0.427},{"t":17.7,"v":0.38},{"t":18.2,"v":0.286},{"t":18.7,"v":0.258},{"t":19.3,"v":0.211},{"t":19.8,"v":0.183},{"t":20.5,"v":0.154},{"t":21.3,"v":0.126},{"t":22,"v":0.107},{"t":22.8,"v":0.098},{"t":23.6,"v":0.098},{"t":24.1,"v":0.079},{"t":24.6,"v":0.07},{"t":47.3,"v":0.041},{"t":47.8,"v":0.051},{"t":48.3,"v":0.06},{"t":49.1,"v":0.079},{"t":49.6,"v":0.098},{"t":50.4,"v":0.145},{"t":51.1,"v":0.192},{"t":51.9,"v":0.249},{"t":52.7,"v":0.324},{"t":53.4,"v":0.371},{"t":54.2,"v":0.437},{"t":54.9,"v":0.484},{"t":55.7,"v":0.512},{"t":56.2,"v":0.493},{"t":56.7,"v":0.456},{"t":57.3,"v":0.418},{"t":57.8,"v":0.38},{"t":58.3,"v":0.343},{"t":59,"v":0.315},{"t":59.8,"v":0.286},{"t":60.6,"v":0.305},{"t":61.3,"v":0.315},{"t":62.1,"v":0.305},{"t":62.9,"v":0.286},{"t":63.6,"v":0.249},{"t":78.2,"v":0.126},{"t":78.7,"v":0.136},{"t":79.5,"v":0.154},{"t":80.1,"v":0.183},{"t":80.8,"v":0.211},{"t":81.5,"v":0.249},{"t":82.6,"v":0.258},{"t":83.6,"v":0.267},{"t":84.6,"v":0.258},{"t":85.6,"v":0.258},{"t":86.6,"v":0.267},{"t":87.4,"v":0.23},{"t":88.4,"v":0.183},{"t":89.4,"v":0.145},{"t":90.5,"v":0.107},{"t":91.5,"v":0.089},{"t":92.5,"v":0.079},{"t":93.5,"v":0.07}],
"days":[{"d":24},{"d":48},{"d":72},{"d":96},{"d":120}]
},
"vconcat":[
{
"width":1080,"height":180,
"layer":[
{"data":{"values":[{}]},"mark":{"type":"point","filled":true,"opacity":0},"encoding":{
"x":{"datum":0,"type":"quantitative","scale":{"domain":[0,144],"nice":false},"axis":null},
"y":{"datum":0,"type":"quantitative","scale":{"domain":[0,0.9],"nice":false},"axis":null},
"color":{"datum":"ISR","scale":{"domain":["ISR","UAM(TM) + N₂*","UAM(MSISE) + N₂*","UAM(TM)","UAM(MSISE)"],"range":["#ee2222","#000000","#1515d6","#000000","#1515d6"]},
"legend":{"orient":"none","legendX":-68,"legendY":707,"direction":"horizontal","title":null,"padding":0,"labelFont":"Liberation Serif","labelFontSize":30,"labelFontWeight":"bold","labelColor":"#000","labelLimit":600,"symbolSize":400,"symbolStrokeWidth":2.6,"symbolOpacity":1,"labelOffset":18,"columnPadding":18}},
"shape":{"datum":"ISR","scale":{"domain":["ISR","UAM(TM) + N₂*","UAM(MSISE) + N₂*","UAM(TM)","UAM(MSISE)"],"range":["M2.48,0A0.38,0.38 0 1 1 1.72,0A0.38,0.38 0 1 1 2.48,0Z","M-1,0H2.5","M-1,0H2.5","M-1,0H2.5M1.1,0A0.35,0.35 0 1 1 0.4,0A0.35,0.35 0 1 1 1.1,0Z","M-1,0H0.3M1.2,0H2.5M1.2,0A0.45,0.45 0 1 1 0.3,0A0.45,0.45 0 1 1 1.2,0ZM1.13,0A0.38,0.38 0 1 0 0.37,0A0.38,0.38 0 1 0 1.13,0Z"]}},
"strokeDash":{"datum":"ISR","scale":{"domain":["ISR","UAM(TM) + N₂*","UAM(MSISE) + N₂*","UAM(TM)","UAM(MSISE)"],"range":[[1,0],[1,0],[8,4],[1,0],[1,0]]}}}},
{"data":{"name":"days"},"mark":{"type":"rule","strokeDash":[7,8],"color":"#333","strokeWidth":1},"encoding":{"x":{"field":"d","type":"quantitative","scale":{"domain":[0,144],"nice":false},"axis":null}}},
{"data":{"name":"p1d"},"mark":{"type":"line","strokeWidth":1.3,"point":{"filled":false,"size":50,"strokeWidth":1,"opacity":1}},"encoding":{
"x":{"field":"t","type":"quantitative","scale":{"domain":[0,144],"nice":false},"axis":{"orient":"bottom","values":[0,1,2,3,4,5,6,7,8,9,10,11,12,13,14,15,16,17,18,19,20,21,22,23,24,25,26,27,28,29,30,31,32,33,34,35,36,37,38,39,40,41,42,43,44,45,46,47,48,49,50,51,52,53,54,55,56,57,58,59,60,61,62,63,64,65,66,67,68,69,70,71,72,73,74,75,76,77,78,79,80,81,82,83,84,85,86,87,88,89,90,91,92,93,94,95,96,97,98,99,100,101,102,103,104,105,106,107,108,109,110,111,112,113,114,115,116,117,118,119,120,121,122,123,124,125,126,127,128,129,130,131,132,133,134,135,136,137,138,139,140,141,142,143,144],"labels":false,"tickSize":{"condition":{"test":"datum.value % 3 === 0","value":8},"value":4},"domainColor":"#333","tickColor":"#333","domainWidth":1.5,"tickWidth":1.2,"grid":false,"title":null}},
"y":{"field":"v","type":"quantitative","scale":{"domain":[0,0.9],"nice":false},"axis":{"orient":"left","values":[0,0.1,0.2,0.3,0.4,0.5,0.6,0.7,0.8],"tickSize":{"condition":{"test":"abs(datum.value*2-round(datum.value*2))<0.001","value":12},"value":6},"labelExpr":"datum.value===0 ? '0' : (abs(datum.value*2-round(datum.value*2))<0.001 ? format(datum.value,'.1f') : '')","labelOverlap":false,"labelFont":"Liberation Serif","labelFontSize":28,"labelFontWeight":"bold","labelColor":"#111","labelPadding":3,"domainColor":"#333","tickColor":"#333","domainWidth":1.5,"tickWidth":1.2,"grid":false,"title":null}},
"color":{"datum":"UAM(MSISE)","scale":{"domain":["ISR","UAM(TM) + N₂*","UAM(MSISE) + N₂*","UAM(TM)","UAM(MSISE)"],"range":["#ee2222","#000000","#1515d6","#000000","#1515d6"]}}}},
{"data":{"name":"p1b"},"mark":{"type":"line","strokeWidth":3,"strokeDash":[10,5]},"encoding":{
"x":{"field":"t","type":"quantitative","scale":{"domain":[0,144],"nice":false},"axis":{"orient":"top","values":[12,36,60,84,108,132],"ticks":false,"labelExpr":"datum.value===12 ? '15.04.02' : datum.value===36 ? '16.04.02' : datum.value===60 ? '17.04.02' : datum.value===84 ? '18.04.02' : datum.value===108 ? '19.04.02' : '20.04.02'","labelFont":"Liberation Serif","labelFontSize":33,"labelColor":"#111","labelPadding":1,"labelOverlap":false,"labelFlush":false,"domainColor":"#555","domainWidth":1.5,"grid":false,"title":null}},
"y":{"field":"v","type":"quantitative","scale":{"domain":[0,0.9],"nice":false},"axis":{"orient":"right","values":[0,0.1,0.2,0.3,0.4,0.5,0.6,0.7,0.8],"labels":false,"tickSize":{"condition":{"test":"abs(datum.value*2-round(datum.value*2))<0.001","value":12},"value":6},"domainColor":"#333","tickColor":"#333","domainWidth":1.5,"tickWidth":1.2,"grid":false,"title":null}},
"color":{"datum":"UAM(MSISE) + N₂*","scale":{"domain":["ISR","UAM(TM) + N₂*","UAM(MSISE) + N₂*","UAM(TM)","UAM(MSISE)"],"range":["#ee2222","#000000","#1515d6","#000000","#1515d6"]}}}},
{"data":{"name":"p1c"},"mark":{"type":"line","strokeWidth":1.5,"point":{"filled":true,"size":28,"opacity":1}},"encoding":{
"x":{"field":"t","type":"quantitative","scale":{"domain":[0,144],"nice":false},"axis":null},
"y":{"field":"v","type":"quantitative","scale":{"domain":[0,0.9],"nice":false},"axis":null},
"color":{"datum":"UAM(TM)","scale":{"domain":["ISR","UAM(TM) + N₂*","UAM(MSISE) + N₂*","UAM(TM)","UAM(MSISE)"],"range":["#ee2222","#000000","#1515d6","#000000","#1515d6"]}}}},
{"data":{"name":"p1a"},"mark":{"type":"line","strokeWidth":3.2},"encoding":{
"x":{"field":"t","type":"quantitative","scale":{"domain":[0,144],"nice":false},"axis":null},
"y":{"field":"v","type":"quantitative","scale":{"domain":[0,0.9],"nice":false},"axis":null},
"color":{"datum":"UAM(TM) + N₂*","scale":{"domain":["ISR","UAM(TM) + N₂*","UAM(MSISE) + N₂*","UAM(TM)","UAM(MSISE)"],"range":["#ee2222","#000000","#1515d6","#000000","#1515d6"]}}}},
{"data":{"name":"p1i"},"mark":{"type":"circle","size":40,"opacity":1},"encoding":{
"x":{"field":"t","type":"quantitative","scale":{"domain":[0,144],"nice":false},"axis":null},
"y":{"field":"v","type":"quantitative","scale":{"domain":[0,0.9],"nice":false},"axis":null},
"color":{"datum":"ISR","scale":{"domain":["ISR","UAM(TM) + N₂*","UAM(MSISE) + N₂*","UAM(TM)","UAM(MSISE)"],"range":["#ee2222","#000000","#1515d6","#000000","#1515d6"]}}}},
{"data":{"values":[{}]},"mark":{"type":"text","font":"Liberation Serif","fontSize":28,"fontWeight":"bold","color":"#111"},"encoding":{
"x":{"datum":132.7,"type":"quantitative","scale":{"domain":[0,144],"nice":false},"axis":null},
"y":{"datum":0.73,"type":"quantitative","scale":{"domain":[0,0.9],"nice":false},"axis":null},
"text":{"value":"440 км"}}}
],
"resolve":{"axis":{"x":"independent","y":"independent"}}
},
{
"width":1080,"height":185,
"layer":[
{"data":{"name":"days"},"mark":{"type":"rule","strokeDash":[7,8],"color":"#333","strokeWidth":1},"encoding":{"x":{"field":"d","type":"quantitative","scale":{"domain":[0,144],"nice":false},"axis":null}}},
{"data":{"name":"p2d"},"mark":{"type":"line","strokeWidth":1.3,"point":{"filled":false,"size":50,"strokeWidth":1,"opacity":1}},"encoding":{
"x":{"field":"t","type":"quantitative","scale":{"domain":[0,144],"nice":false},"axis":{"orient":"bottom","values":[0,1,2,3,4,5,6,7,8,9,10,11,12,13,14,15,16,17,18,19,20,21,22,23,24,25,26,27,28,29,30,31,32,33,34,35,36,37,38,39,40,41,42,43,44,45,46,47,48,49,50,51,52,53,54,55,56,57,58,59,60,61,62,63,64,65,66,67,68,69,70,71,72,73,74,75,76,77,78,79,80,81,82,83,84,85,86,87,88,89,90,91,92,93,94,95,96,97,98,99,100,101,102,103,104,105,106,107,108,109,110,111,112,113,114,115,116,117,118,119,120,121,122,123,124,125,126,127,128,129,130,131,132,133,134,135,136,137,138,139,140,141,142,143,144],"labels":false,"tickSize":{"condition":{"test":"datum.value % 3 === 0","value":8},"value":4},"domainColor":"#333","tickColor":"#333","domainWidth":1.5,"tickWidth":1.2,"grid":false,"title":null}},
"y":{"field":"v","type":"quantitative","scale":{"domain":[0,1.233],"nice":false},"axis":{"orient":"left","values":[0,0.1,0.2,0.3,0.4,0.5,0.6,0.7,0.8,0.9,1.0,1.1,1.2],"tickSize":{"condition":{"test":"abs(datum.value*2-round(datum.value*2))<0.001","value":12},"value":6},"labelExpr":"datum.value===0 ? '0' : (abs(datum.value*2-round(datum.value*2))<0.001 ? format(datum.value,'.1f') : '')","labelOverlap":false,"labelFont":"Liberation Serif","labelFontSize":28,"labelFontWeight":"bold","labelColor":"#111","labelPadding":3,"domainColor":"#333","tickColor":"#333","domainWidth":1.5,"tickWidth":1.2,"grid":false,"title":null}},
"color":{"datum":"UAM(MSISE)","scale":{"domain":["ISR","UAM(TM) + N₂*","UAM(MSISE) + N₂*","UAM(TM)","UAM(MSISE)"],"range":["#ee2222","#000000","#1515d6","#000000","#1515d6"]}}}},
{"data":{"name":"p2b"},"mark":{"type":"line","strokeWidth":3,"strokeDash":[10,5]},"encoding":{
"x":{"field":"t","type":"quantitative","scale":{"domain":[0,144],"nice":false},"axis":null},
"y":{"field":"v","type":"quantitative","scale":{"domain":[0,1.233],"nice":false},"axis":{"orient":"right","values":[0,0.1,0.2,0.3,0.4,0.5,0.6,0.7,0.8,0.9,1.0,1.1,1.2],"labels":false,"tickSize":{"condition":{"test":"abs(datum.value*2-round(datum.value*2))<0.001","value":12},"value":6},"domainColor":"#333","tickColor":"#333","domainWidth":1.5,"tickWidth":1.2,"grid":false,"title":null}},
"color":{"datum":"UAM(MSISE) + N₂*","scale":{"domain":["ISR","UAM(TM) + N₂*","UAM(MSISE) + N₂*","UAM(TM)","UAM(MSISE)"],"range":["#ee2222","#000000","#1515d6","#000000","#1515d6"]}}}},
{"data":{"name":"p2c"},"mark":{"type":"line","strokeWidth":1.5,"point":{"filled":true,"size":28,"opacity":1}},"encoding":{
"x":{"field":"t","type":"quantitative","scale":{"domain":[0,144],"nice":false},"axis":null},
"y":{"field":"v","type":"quantitative","scale":{"domain":[0,1.233],"nice":false},"axis":null},
"color":{"datum":"UAM(TM)","scale":{"domain":["ISR","UAM(TM) + N₂*","UAM(MSISE) + N₂*","UAM(TM)","UAM(MSISE)"],"range":["#ee2222","#000000","#1515d6","#000000","#1515d6"]}}}},
{"data":{"name":"p2a"},"mark":{"type":"line","strokeWidth":3.2},"encoding":{
"x":{"field":"t","type":"quantitative","scale":{"domain":[0,144],"nice":false},"axis":null},
"y":{"field":"v","type":"quantitative","scale":{"domain":[0,1.233],"nice":false},"axis":null},
"color":{"datum":"UAM(TM) + N₂*","scale":{"domain":["ISR","UAM(TM) + N₂*","UAM(MSISE) + N₂*","UAM(TM)","UAM(MSISE)"],"range":["#ee2222","#000000","#1515d6","#000000","#1515d6"]}}}},
{"data":{"name":"p2i"},"mark":{"type":"circle","size":40,"opacity":1},"encoding":{
"x":{"field":"t","type":"quantitative","scale":{"domain":[0,144],"nice":false},"axis":null},
"y":{"field":"v","type":"quantitative","scale":{"domain":[0,1.233],"nice":false},"axis":null},
"color":{"datum":"ISR","scale":{"domain":["ISR","UAM(TM) + N₂*","UAM(MSISE) + N₂*","UAM(TM)","UAM(MSISE)"],"range":["#ee2222","#000000","#1515d6","#000000","#1515d6"]}}}},
{"data":{"values":[{}]},"mark":{"type":"text","font":"Liberation Serif","fontSize":28,"fontWeight":"bold","color":"#111"},"encoding":{
"x":{"datum":132.7,"type":"quantitative","scale":{"domain":[0,144],"nice":false},"axis":null},
"y":{"datum":1.1,"type":"quantitative","scale":{"domain":[0,1.233],"nice":false},"axis":null},
"text":{"value":"344 км"}}}
],
"resolve":{"axis":{"x":"independent","y":"independent"}}
},
{
"width":1080,"height":183,
"layer":[
{"data":{"name":"days"},"mark":{"type":"rule","strokeDash":[7,8],"color":"#333","strokeWidth":1},"encoding":{"x":{"field":"d","type":"quantitative","scale":{"domain":[0,144],"nice":false},"axis":null}}},
{"data":{"name":"p3d"},"mark":{"type":"line","strokeWidth":1.3,"point":{"filled":false,"size":50,"strokeWidth":1,"opacity":1}},"encoding":{
"x":{"field":"t","type":"quantitative","scale":{"domain":[0,144],"nice":false},"axis":{"orient":"bottom","values":[0,1,2,3,4,5,6,7,8,9,10,11,12,13,14,15,16,17,18,19,20,21,22,23,24,25,26,27,28,29,30,31,32,33,34,35,36,37,38,39,40,41,42,43,44,45,46,47,48,49,50,51,52,53,54,55,56,57,58,59,60,61,62,63,64,65,66,67,68,69,70,71,72,73,74,75,76,77,78,79,80,81,82,83,84,85,86,87,88,89,90,91,92,93,94,95,96,97,98,99,100,101,102,103,104,105,106,107,108,109,110,111,112,113,114,115,116,117,118,119,120,121,122,123,124,125,126,127,128,129,130,131,132,133,134,135,136,137,138,139,140,141,142,143,144],"tickSize":{"condition":{"test":"datum.value % 3 === 0","value":8},"value":4},"labelExpr":"datum.value % 6 === 0 ? (datum.value === 144 ? '24' : toString(datum.value % 24)) : ''","labelOverlap":false,"labelFlush":false,"labelFont":"Liberation Serif","labelFontSize":27,"labelFontWeight":"bold","labelColor":"#111","labelPadding":4,"domainColor":"#333","tickColor":"#333","domainWidth":1.5,"tickWidth":1.2,"grid":false,"title":"Мировое время, часы","titleFont":"Liberation Serif","titleFontSize":33,"titleFontWeight":"bold","titleColor":"#111","titlePadding":4}},
"y":{"field":"v","type":"quantitative","scale":{"domain":[0,1.034],"nice":false},"axis":{"orient":"left","values":[0,0.1,0.2,0.3,0.4,0.5,0.6,0.7,0.8,0.9,1.0],"tickSize":{"condition":{"test":"abs(datum.value*2-round(datum.value*2))<0.001","value":12},"value":6},"labelExpr":"datum.value===0 ? '0' : (abs(datum.value*2-round(datum.value*2))<0.001 ? format(datum.value,'.1f') : '')","labelOverlap":false,"labelFont":"Liberation Serif","labelFontSize":28,"labelFontWeight":"bold","labelColor":"#111","labelPadding":3,"domainColor":"#333","tickColor":"#333","domainWidth":1.5,"tickWidth":1.2,"grid":false,"title":null}},
"color":{"datum":"UAM(MSISE)","scale":{"domain":["ISR","UAM(TM) + N₂*","UAM(MSISE) + N₂*","UAM(TM)","UAM(MSISE)"],"range":["#ee2222","#000000","#1515d6","#000000","#1515d6"]}}}},
{"data":{"name":"p3b"},"mark":{"type":"line","strokeWidth":3,"strokeDash":[10,5]},"encoding":{
"x":{"field":"t","type":"quantitative","scale":{"domain":[0,144],"nice":false},"axis":null},
"y":{"field":"v","type":"quantitative","scale":{"domain":[0,1.034],"nice":false},"axis":{"orient":"right","values":[0,0.1,0.2,0.3,0.4,0.5,0.6,0.7,0.8,0.9,1.0],"labels":false,"tickSize":{"condition":{"test":"abs(datum.value*2-round(datum.value*2))<0.001","value":12},"value":6},"domainColor":"#333","tickColor":"#333","domainWidth":1.5,"tickWidth":1.2,"grid":false,"title":null}},
"color":{"datum":"UAM(MSISE) + N₂*","scale":{"domain":["ISR","UAM(TM) + N₂*","UAM(MSISE) + N₂*","UAM(TM)","UAM(MSISE)"],"range":["#ee2222","#000000","#1515d6","#000000","#1515d6"]}}}},
{"data":{"name":"p3c"},"mark":{"type":"line","strokeWidth":1.5,"point":{"filled":true,"size":28,"opacity":1}},"encoding":{
"x":{"field":"t","type":"quantitative","scale":{"domain":[0,144],"nice":false},"axis":null},
"y":{"field":"v","type":"quantitative","scale":{"domain":[0,1.034],"nice":false},"axis":null},
"color":{"datum":"UAM(TM)","scale":{"domain":["ISR","UAM(TM) + N₂*","UAM(MSISE) + N₂*","UAM(TM)","UAM(MSISE)"],"range":["#ee2222","#000000","#1515d6","#000000","#1515d6"]}}}},
{"data":{"name":"p3a"},"mark":{"type":"line","strokeWidth":3.2},"encoding":{
"x":{"field":"t","type":"quantitative","scale":{"domain":[0,144],"nice":false},"axis":null},
"y":{"field":"v","type":"quantitative","scale":{"domain":[0,1.034],"nice":false},"axis":null},
"color":{"datum":"UAM(TM) + N₂*","scale":{"domain":["ISR","UAM(TM) + N₂*","UAM(MSISE) + N₂*","UAM(TM)","UAM(MSISE)"],"range":["#ee2222","#000000","#1515d6","#000000","#1515d6"]}}}},
{"data":{"name":"p3i"},"mark":{"type":"circle","size":40,"opacity":1},"encoding":{
"x":{"field":"t","type":"quantitative","scale":{"domain":[0,144],"nice":false},"axis":null},
"y":{"field":"v","type":"quantitative","scale":{"domain":[0,1.034],"nice":false},"axis":null},
"color":{"datum":"ISR","scale":{"domain":["ISR","UAM(TM) + N₂*","UAM(MSISE) + N₂*","UAM(TM)","UAM(MSISE)"],"range":["#ee2222","#000000","#1515d6","#000000","#1515d6"]}}}},
{"data":{"values":[{}]},"mark":{"type":"text","font":"Liberation Serif","fontSize":28,"fontWeight":"bold","color":"#111"},"encoding":{
"x":{"datum":132.7,"type":"quantitative","scale":{"domain":[0,144],"nice":false},"axis":null},
"y":{"datum":0.91,"type":"quantitative","scale":{"domain":[0,1.034],"nice":false},"axis":null},
"text":{"value":"246 км"}}},
{"data":{"values":[{}]},"mark":{"type":"rule","color":"#444","strokeWidth":1.5},"encoding":{
"x":{"datum":-9.06,"type":"quantitative","scale":{"domain":[0,144],"nice":false},"axis":null},
"x2":{"datum":147.5},
"y":{"datum":-0.514,"type":"quantitative","scale":{"domain":[0,1.034],"nice":false},"axis":null}}}
],
"resolve":{"axis":{"x":"independent","y":"independent"}}
}
],
"config":{"view":{"stroke":null},"font":"Liberation Serif"}
}
